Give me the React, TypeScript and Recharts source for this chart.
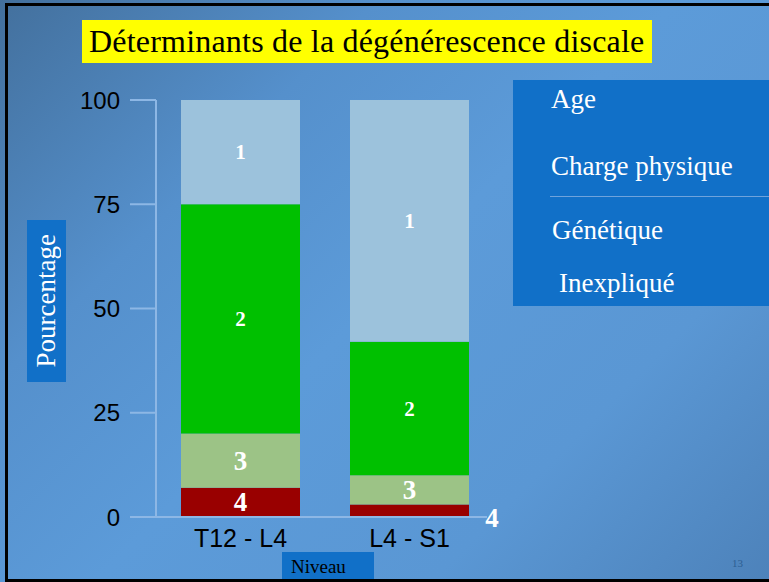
import React from 'react';
import { BarChart, Bar, XAxis, YAxis, Legend, LabelList } from 'recharts';

// niveaux vertébraux
const categories = ['T12 - L4', 'L4 - S1'];
// noms des déterminants (ordre de la légende)
const seriesNames = ['Age', 'Charge physique', 'Génétique', 'Inexpliqué'];
const seriesLabels = ['1', '2', '3', '4'];
// pourcentages
const ageValues = [25, 58];
const chargeValues = [55, 32];
const genetiqueValues = [13, 7];
const inexpliqueValues = [7, 3];
const yTicks = [0, 25, 50, 75, 100];

const data = categories.map((niveau, i) => ({
    niveau,
    age: ageValues[i],
    charge: chargeValues[i],
    genetique: genetiqueValues[i],
    inexplique: inexpliqueValues[i]
}));

const AXIS_COLOR = '#8db7e5';
const BOX_BLUE = '#1170c8';
const SERIF = '"Liberation Serif", serif';
const SANS = '"Liberation Sans", Arial, sans-serif';

// étiquette blanche au centre du segment (à droite si le segment est trop petit)
const makeLabel = (text: string, small: boolean) => (props: any) => {
    const x = Number(props.x);
    const y = Number(props.y);
    const width = Number(props.width);
    const height = Number(props.height);
    const outside = height < 20;
    const cx = outside ? x + width + 23 : x + width / 2;
    const cy = outside ? y + height / 2 + 7 : y + height / 2;
    return (
        <text
            x={cx}
            y={cy}
            textAnchor="middle"
            dominantBaseline="central"
            fill="#ffffff"
            fontFamily={SERIF}
            fontWeight="bold"
            fontSize={small ? 21 : 27}
        >
            {text}
        </text>
    );
};

const legendTops = [4, 71, 135, 188];
const legendLefts = [38, 38, 39, 46];

const renderLegend = () => (
    <div style={{ position: 'relative', width: 256, height: 226, background: BOX_BLUE, fontFamily: SERIF }}>
        {seriesNames.map((name, i) => (
            <div
                key={name}
                style={{
                    position: 'absolute',
                    left: legendLefts[i],
                    top: legendTops[i],
                    fontSize: 27,
                    lineHeight: '30px',
                    color: '#ffffff',
                    whiteSpace: 'nowrap'
                }}
            >
                {name}
            </div>
        ))}
        <div style={{ position: 'absolute', left: 37, right: 0, top: 116, height: 1, background: '#6fa3dc' }} />
    </div>
);

export default function App() {
    return (
        <div
            style={{
                position: 'fixed',
                left: 0,
                top: 0,
                width: 769,
                height: 582,
                overflow: 'hidden',
                background: 'linear-gradient(135deg, #43709d 0%, #5590cc 28%, #5c9bd9 50%, #5a97d4 75%, #4d82ba 100%)',
                fontFamily: SERIF
            }}
        >
            {/* titre */}
            <div
                style={{
                    position: 'absolute',
                    left: 82,
                    top: 20,
                    width: 570,
                    height: 43,
                    background: '#ffff00',
                    color: '#000000',
                    fontSize: 32,
                    letterSpacing: 0.2,
                    lineHeight: '43px',
                    paddingLeft: 7,
                    boxSizing: 'border-box',
                    whiteSpace: 'nowrap'
                }}
            >
                Déterminants de la dégénérescence discale
            </div>

            <div style={{ position: 'absolute', left: 0, top: 0 }}>
                <BarChart
                    width={769}
                    height={582}
                    data={data}
                    margin={{ top: 100, right: 275, bottom: 35, left: 96 }}
                    barSize={119}
                >
                    <XAxis
                        dataKey="niveau"
                        axisLine={false}
                        tickLine={false}
                        tickSize={0}
                        tickMargin={12}
                        height={30}
                        tick={{ fill: '#000000', fontSize: 25, fontFamily: SANS }}
                    />
                    <YAxis
                        width={60}
                        domain={[0, 100]}
                        ticks={yTicks}
                        axisLine={{ stroke: AXIS_COLOR, strokeWidth: 2 }}
                        tickLine={{ stroke: AXIS_COLOR, strokeWidth: 2 }}
                        tickSize={26}
                        tickMargin={10}
                        tick={{ fill: '#000000', fontSize: 24, fontFamily: SANS }}
                    />
                    <Legend
                        layout="vertical"
                        align="center"
                        verticalAlign="middle"
                        wrapperStyle={{ left: 513, top: 80, width: 256, height: 226 }}
                        content={renderLegend}
                    />
                    <Bar dataKey="inexplique" name={seriesNames[3]} stackId="a" fill="#990000" isAnimationActive={false}>
                        <LabelList dataKey="inexplique" content={makeLabel(seriesLabels[3], false)} />
                    </Bar>
                    <Bar dataKey="genetique" name={seriesNames[2]} stackId="a" fill="#9cc386" isAnimationActive={false}>
                        <LabelList dataKey="genetique" content={makeLabel(seriesLabels[2], false)} />
                    </Bar>
                    <Bar dataKey="charge" name={seriesNames[1]} stackId="a" fill="#00c000" isAnimationActive={false}>
                        <LabelList dataKey="charge" content={makeLabel(seriesLabels[1], true)} />
                    </Bar>
                    <Bar dataKey="age" name={seriesNames[0]} stackId="a" fill="#9cc2dc" isAnimationActive={false}>
                        <LabelList dataKey="age" content={makeLabel(seriesLabels[0], true)} />
                    </Bar>
                </BarChart>
            </div>

            {/* ligne de l'axe des abscisses, dépasse l'axe vertical à gauche */}
            <div style={{ position: 'absolute', left: 137, top: 516, width: 350, height: 2, background: AXIS_COLOR }} />

            {/* titre de l'axe vertical */}
            <div
                style={{
                    position: 'absolute',
                    left: 27,
                    top: 220,
                    width: 39,
                    height: 162,
                    background: BOX_BLUE,
                    display: 'flex',
                    alignItems: 'center',
                    justifyContent: 'center'
                }}
            >
                <span
                    style={{
                        writingMode: 'vertical-rl',
                        transform: 'rotate(180deg)',
                        color: '#ffffff',
                        fontSize: 27,
                        whiteSpace: 'nowrap'
                    }}
                >
                    Pourcentage
                </span>
            </div>

            {/* titre de l'axe horizontal */}
            <div
                style={{
                    position: 'absolute',
                    left: 282,
                    top: 552,
                    width: 92,
                    height: 30,
                    background: BOX_BLUE,
                    color: '#000000',
                    fontSize: 19,
                    lineHeight: '30px',
                    paddingLeft: 9,
                    boxSizing: 'border-box'
                }}
            >
                Niveau
            </div>

            {/* numéro de diapositive */}
            <div style={{ position: 'absolute', left: 732, top: 557, fontSize: 11, color: '#2d5f93' }}>13</div>

            {/* cadre noir */}
            <div
                style={{
                    position: 'absolute',
                    left: 5,
                    top: 3,
                    width: 790,
                    height: 579,
                    border: '3px solid #000000',
                    boxSizing: 'border-box',
                    pointerEvents: 'none'
                }}
            />
        </div>
    );
}
